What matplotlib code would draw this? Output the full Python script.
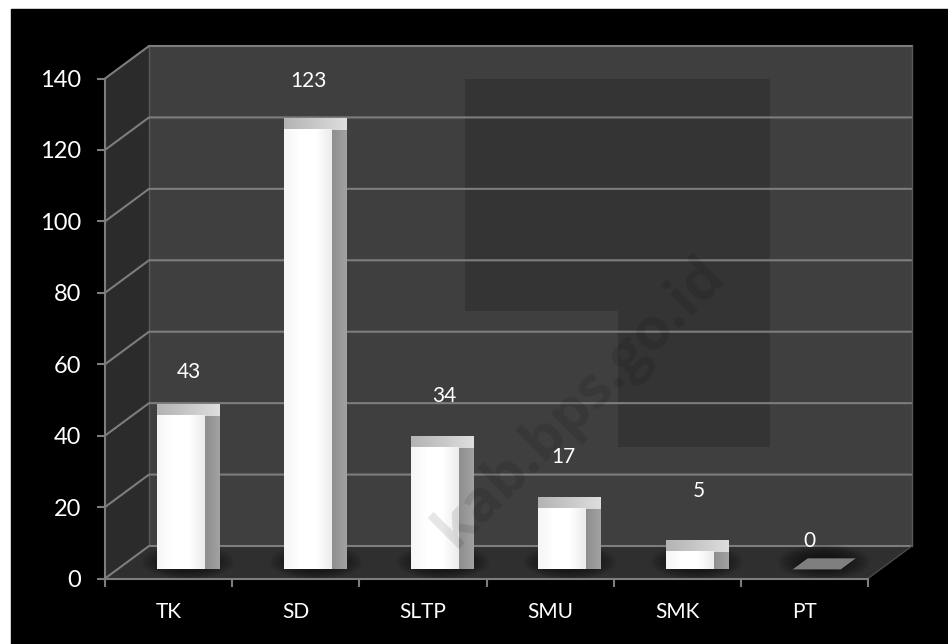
import numpy as np
import matplotlib
matplotlib.use("Agg")
import matplotlib.pyplot as plt
from matplotlib.patches import Polygon, Rectangle

plt.rcParams["font.family"] = ["Lato", "DejaVu Sans"]

categories = ["TK", "SD", "SLTP", "SMU", "SMK", "PT"]
values = [43, 123, 34, 17, 5, 0]
y_ticks = [0, 20, 40, 60, 80, 100, 120, 140]

# manual label offsets (pixels from the top centre of bar)
label_dx = [8, 0, 9, 1, 9, -7]
label_dy = [44, 49, 52, 52, 61, 28]

W, H = 948, 644
LINE = "#7d7d7d"

fig = plt.figure(figsize=(W / 100, H / 100), dpi=100, facecolor="white")
fig.add_artist(Rectangle((11 / W, 0), 1, 1 - 9 / H, color="black", zorder=-5,
                         transform=fig.transFigure))

ax = fig.add_axes([105 / W, 1 - 578.5 / H, 763 / W, 500 / H])
ax.set_facecolor("none")
ax.set_xlim(0, 6)
ax.set_ylim(0, 140)

# depth of the 3d box, in axis units
DX = 44 / (763 / 6)
DY = 32.5 / (500 / 140)


def proj(x, y, d):
    return (x + d * DX, y + d * DY)


def px(x, y):
    # pixel position on the picture -> data units, for the backdrop only
    return ((x - 105) / (763 / 6), (578.5 - y) / (500 / 140))


def grad_poly(verts, colors, z):
    # polygon with left to right gradient
    verts = np.array(verts)
    cmap = matplotlib.colors.LinearSegmentedColormap.from_list("g", colors)
    im = ax.imshow(np.linspace(0, 1, 64).reshape(1, -1), cmap=cmap, aspect="auto", zorder=z,
                   extent=(verts[:, 0].min(), verts[:, 0].max(), verts[:, 1].min(), verts[:, 1].max()),
                   interpolation="bilinear", clip_on=False)
    clip = Polygon(verts, closed=True, transform=ax.transData)
    im.set_clip_path(clip)


# walls
ax.add_patch(Polygon([proj(0, 0, 1), proj(6, 0, 1), proj(6, 140, 1), proj(0, 140, 1)],
                     fc="#3f3f3f", ec="none", zorder=1, clip_on=False))
ax.add_patch(Polygon([proj(0, 0, 0), proj(0, 0, 1), proj(0, 140, 1), proj(0, 140, 0)],
                     fc="#2b2b2b", ec="none", zorder=1, clip_on=False))
ax.add_patch(Polygon([proj(0, 0, 0), proj(6, 0, 0), proj(6, 0, 1), proj(0, 0, 1)],
                     fc="#2f2f2f", ec="none", zorder=1.5, clip_on=False))

# darker patches on the back wall
for (x0, y0, x1, y1) in [(465, 47, 770, 311), (618, 311, 770, 447)]:
    a, b = px(x0, y1), px(x1, y0)
    ax.add_patch(Rectangle(a, b[0] - a[0], b[1] - a[1], fc="#343434", ec="none", zorder=1.2))

# gridlines
for t in y_ticks:
    ax.plot(*zip(proj(0, t, 0), proj(0, t, 1), proj(6, t, 1)), color=LINE, lw=1.5,
            zorder=2, clip_on=False, solid_joinstyle="miter")
ax.plot(*zip(proj(0, 140, 1), proj(0, 0, 1)), color="#5a5a5a", lw=1, zorder=1.3, clip_on=False)
ax.plot(*zip(proj(6, 0, 0), proj(6, 0, 1)), color="#4a4a4a", lw=1, zorder=2, clip_on=False)
ax.plot(*zip(proj(6, 0, 1), proj(6, 140, 1)), color="#5a5a5a", lw=1, zorder=2, clip_on=False)

# bars
BAR_W = 48 / (763 / 6)
D0, D1 = 0.28, 0.62
for i, v in enumerate(values):
    x0 = i + 0.5 - BAR_W / 2 + 0.0
    x1 = x0 + BAR_W

    # soft shadow on the floor
    sx = np.linspace(-1, 1, 60)
    sxx, syy = np.meshgrid(sx, sx)
    alpha = np.clip(1 - (sxx ** 2 + syy ** 2) ** 1.2, 0, 1) * 0.6
    shade = np.zeros((60, 60, 4))
    shade[..., 3] = alpha
    cx, cy = proj((x0 + x1) / 2, 0, (D0 + D1) / 2)
    im = ax.imshow(shade, aspect="auto", zorder=2.2, interpolation="bilinear", clip_on=False,
                   extent=(cx - BAR_W * 1.0, cx + BAR_W * 1.0, cy - 4.5, cy + 5.5))

    if v == 0:
        ax.add_patch(Polygon([proj(x0, 0, D0), proj(x1, 0, D0), proj(x1, 0, D1), proj(x0, 0, D1)],
                             fc="#7f7f7f", ec="none", zorder=3, clip_on=False))
    else:
        grad_poly([proj(x1, 0, D0), proj(x1, 0, D1), proj(x1, v, D1), proj(x1, v, D0)],
                  ["#8e8e8e", "#a2a2a2"], 3)
        grad_poly([proj(x0, v, D0), proj(x1, v, D0), proj(x1, v, D1), proj(x0, v, D1)],
                  ["#b4b4b4", "#c8c8c8", "#dedede"], 3.1)
        grad_poly([proj(x0, 0, D0), proj(x1, 0, D0), proj(x1, v, D0), proj(x0, v, D0)],
                  ["#f6f6f6", "#ffffff", "#ffffff", "#ececec"], 3.2)

    lx, ly = proj(i + 0.5, v, D0)
    ax.annotate(str(v), xy=(lx, ly), xytext=(label_dx[i], label_dy[i]), textcoords="offset pixels",
                color="white", fontsize=15, ha="center", va="center", zorder=6, annotation_clip=False)

ax.set_xlim(0, 6)
ax.set_ylim(0, 140)

# watermark
wx, wy = px(580, 402)
ax.text(wx, wy, "kab.bps.go.id", rotation=45, ha="center", va="center", fontsize=42,
        fontweight="bold", family=["Open Sans"], color="black", alpha=0.1, zorder=5,
        rotation_mode="anchor")

# axes
for s in ["top", "right"]:
    ax.spines[s].set_visible(False)
for s in ["left", "bottom"]:
    ax.spines[s].set_color(LINE)
    ax.spines[s].set_linewidth(1.5)
    ax.spines[s].set_zorder(2.5)
ax.set_yticks(y_ticks)
ax.set_xticks(range(7))
ax.set_xticklabels([])
ax.set_xticks(np.arange(6) + 0.5, categories, minor=True)
ax.tick_params(axis="both", which="major", color=LINE, width=1.5, length=6, labelcolor="white",
               labelsize=17, pad=11)
ax.tick_params(axis="x", which="minor", length=0, labelcolor="white", labelsize=15, pad=17)

fig.savefig("out.png", dpi=100, facecolor="white")
